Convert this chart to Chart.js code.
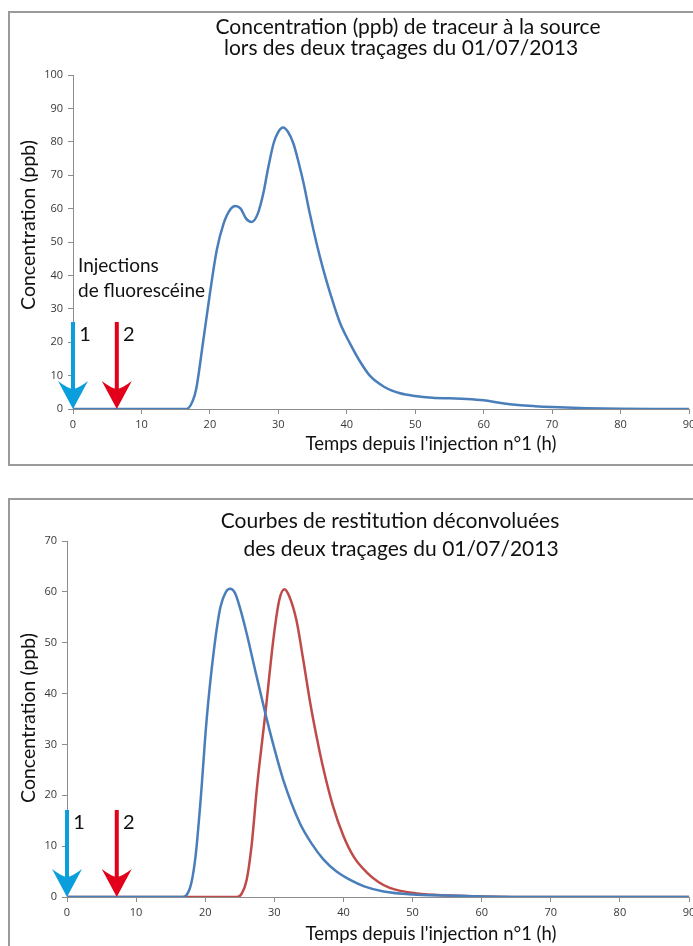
<!DOCTYPE html>
<html>
<head>
<meta charset="utf-8">
<script src="https://cdn.jsdelivr.net/npm/chart.js@4.4.0/dist/chart.umd.min.js"></script>
<style>
  body { margin: 0; width: 693px; height: 946px; overflow: hidden; background: #fff; position: relative; }
  .frame { position: absolute; box-sizing: border-box; border: 2px solid #9a9a9a; }
  canvas { position: absolute; left: 0; }
</style>
</head>
<body>
<div class="frame" style="left:8px;top:11px;width:720px;height:455px"></div>
<div class="frame" style="left:8px;top:498px;width:720px;height:500px"></div>
<canvas id="chartSource" style="top:0" width="693" height="470"></canvas>
<canvas id="chartDeconv" style="top:480px" width="693" height="466"></canvas>
<script>
// values

var xTicks = [0, 10, 20, 30, 40, 50, 60, 70, 80, 90];

// chart 1 : concentration at the spring
var hoursSource = [0, 16.6, 17.5, 18, 19, 20, 21, 22, 23, 23.7, 24.5, 25.3, 26.1, 27, 27.8, 28.5, 29.3, 30, 30.7, 31.4, 32.2, 33, 33.7, 34.6, 35.6, 36.6, 37.6, 39, 40.5, 42, 43.4, 45.5, 47.8, 50, 52.5, 55, 57.5, 60, 62.5, 65, 67.5, 70, 75, 80, 85, 90];
var concSource = [0, 0, 2.5, 6, 20, 34.5, 47.5, 55.5, 59.8, 60.8, 60, 57, 56, 58.5, 64.5, 72, 79.5, 83, 84.3, 83, 79.5, 73.5, 67.5, 58.5, 49.5, 41.5, 34.5, 25.8, 19.5, 14, 9.9, 6.6, 4.7, 3.9, 3.4, 3.2, 3.0, 2.6, 1.8, 1.2, 0.85, 0.6, 0.25, 0.05, 0, 0];

// chart 2 : deconvolved curves
var hoursDeconv1 = [0, 16.8, 17.5, 18, 18.6, 19.3, 20.2, 21.2, 22.2, 23, 23.6, 24.3, 25, 26, 27, 28.7, 30, 31.3, 33.7, 35.5, 37.1, 39, 40.9, 43, 45.8, 50, 55, 60, 70, 90];
var concDeconv1 = [0, 0, 0.8, 2.8, 8, 18.5, 34.8, 47.9, 57, 60, 60.6, 59.8, 57, 51.8, 45.9, 36.1, 29.2, 23, 14.5, 10.3, 7.4, 5, 3.4, 2.1, 1.1, 0.5, 0.3, 0.1, 0, 0];
var hoursDeconv2 = [0, 24.6, 25.3, 26, 26.7, 27.5, 28.7, 29.9, 30.7, 31.45, 32.2, 33.2, 34.2, 35.2, 36, 37.1, 38.5, 40, 41.5, 43.4, 45, 46.7, 50.6, 55.4, 60, 70, 90];
var concDeconv2 = [0, 0, 0.7, 3.4, 10, 21.7, 36.1, 51.1, 58.3, 60.5, 59, 54.4, 46.5, 38.1, 32.3, 25.2, 17.8, 12, 7.9, 4.8, 3, 1.8, 0.7, 0.3, 0.1, 0, 0];

// injection times (h) shown with arrows
var injectionLabels = ["1", "2"];
var injectionHoursSource = [0, 6.4];
var injectionHoursDeconv = [0, 7.2];

var arrowColors = ["#0a9fdc", "#e2001a"];
var blue = "#4a7ebb";
var red = "#be4b48";
var axisGrey = "#8c8c8c";
var textFont = "Lato, 'Open Sans', sans-serif";

function toPoints(xs, ys) {
  var pts = [];
  for (var i = 0; i < xs.length; i++) pts.push({ x: xs[i], y: ys[i] });
  return pts;
}

function drawArrow(ctx, x, yTop, yTip, color) {
  ctx.save();
  ctx.fillStyle = color;
  ctx.fillRect(x - 2, yTop, 4, yTip - yTop - 20);
  ctx.beginPath();
  ctx.moveTo(x, yTip);
  ctx.lineTo(x - 15, yTip - 28);
  ctx.quadraticCurveTo(x - 6, yTip - 21, x, yTip - 20);
  ctx.quadraticCurveTo(x + 6, yTip - 21, x + 15, yTip - 28);
  ctx.closePath();
  ctx.fill();
  ctx.restore();
}

function annotations(opts) {
  return {
    id: "annot",
    afterDraw: function (chart) {
      var ctx = chart.ctx;
      var xs = chart.scales.x, ys = chart.scales.y;
      var y0 = ys.getPixelForValue(0);
      ctx.save();
      ctx.fillStyle = "#111";
      ctx.textBaseline = "middle";

      // titles
      ctx.textAlign = "center";
      ctx.font = "21px " + textFont;
      ctx.fillText(opts.title[0], opts.titlePos[0][0], opts.titlePos[0][1]);
      ctx.fillText(opts.title[1], opts.titlePos[1][0], opts.titlePos[1][1]);

      // axis titles
      ctx.font = "18.5px " + textFont;
      ctx.fillText("Temps depuis l'injection n\u00b01 (h)", opts.xTitlePos[0], opts.xTitlePos[1]);
      ctx.save();
      ctx.translate(opts.yTitlePos[0], opts.yTitlePos[1]);
      ctx.rotate(-Math.PI / 2);
      ctx.font = "19.5px " + textFont;
      ctx.fillText("Concentration (ppb)", 0, 0);
      ctx.restore();

      // injection arrows
      ctx.font = "20px " + textFont;
      opts.injections.forEach(function (h, i) {
        var x = xs.getPixelForValue(h);
        drawArrow(ctx, x, y0 - 87, y0, arrowColors[i]);
        ctx.fillStyle = "#111";
        ctx.fillText(injectionLabels[i], x + 12, y0 - 74);
      });

      if (opts.note) {
        ctx.textAlign = "left";
        ctx.font = "19px " + textFont;
        ctx.fillText(opts.note[0], 78, 266);
        ctx.fillText(opts.note[1], 78, 291);
      }
      ctx.restore();
    }
  };
}

function scales(yMax, yWidth, xHeight) {
  return {
    x: {
      type: "linear", min: 0, max: 90,
      afterBuildTicks: function (s) { s.ticks = xTicks.map(function (v) { return { value: v }; }); },
      ticks: { color: "#383838", font: { family: "'Open Sans'", size: 11 }, padding: 4, maxRotation: 0, autoSkip: false },
      grid: { drawOnChartArea: false, drawTicks: true, tickLength: 5, color: axisGrey },
      border: { color: axisGrey, width: 1 },
      afterFit: function (s) { s.height = xHeight; s.paddingRight = 0; s.paddingLeft = 0; }
    },
    y: {
      min: 0, max: yMax,
      ticks: { stepSize: 10, color: "#383838", font: { family: "'Open Sans'", size: 11 }, padding: 5 },
      grid: { drawOnChartArea: false, drawTicks: true, tickLength: 5, color: axisGrey },
      border: { color: axisGrey, width: 1 },
      afterFit: function (s) { s.width = yWidth; }
    }
  };
}

function lineSet(xs, ys, color) {
  return {
    data: toPoints(xs, ys),
    borderColor: color,
    borderWidth: 2.5,
    pointRadius: 0,
    fill: false,
    cubicInterpolationMode: "monotone"
  };
}

var chartSource = new Chart(document.getElementById("chartSource"), {
  type: "line",
  data: { datasets: [lineSet(hoursSource, concSource, blue)] },
  options: {
    responsive: false, animation: false, devicePixelRatio: 1,
    layout: { padding: { left: 0, right: 4, top: 75, bottom: 0 } },
    plugins: { legend: { display: false }, tooltip: { enabled: false } },
    scales: scales(100, 73, 61)
  },
  plugins: [annotations({
    title: ["Concentration (ppb) de traceur \u00e0 la source", "lors des deux tra\u00e7ages du 01/07/2013"],
    titlePos: [[408, 27], [401, 48]],
    xTitlePos: [431, 444],
    yTitlePos: [29, 225],
    injections: injectionHoursSource,
    note: ["Injections", "de fluoresc\u00e9ine"]
  })]
});

var chartDeconv = new Chart(document.getElementById("chartDeconv"), {
  type: "line",
  data: { datasets: [lineSet(hoursDeconv1, concDeconv1, blue), lineSet(hoursDeconv2, concDeconv2, red)] },
  options: {
    responsive: false, animation: false, devicePixelRatio: 1,
    layout: { padding: { left: 0, right: 4, top: 61, bottom: 0 } },
    plugins: { legend: { display: false }, tooltip: { enabled: false } },
    scales: scales(70, 67, 49)
  },
  plugins: [annotations({
    title: ["Courbes de restitution d\u00e9convolu\u00e9es", "des deux tra\u00e7ages du 01/07/2013"],
    titlePos: [[390, 41], [401, 69]],
    xTitlePos: [431, 454],
    yTitlePos: [29, 238],
    injections: injectionHoursDeconv
  })]
});
</script>
</body>
</html>
